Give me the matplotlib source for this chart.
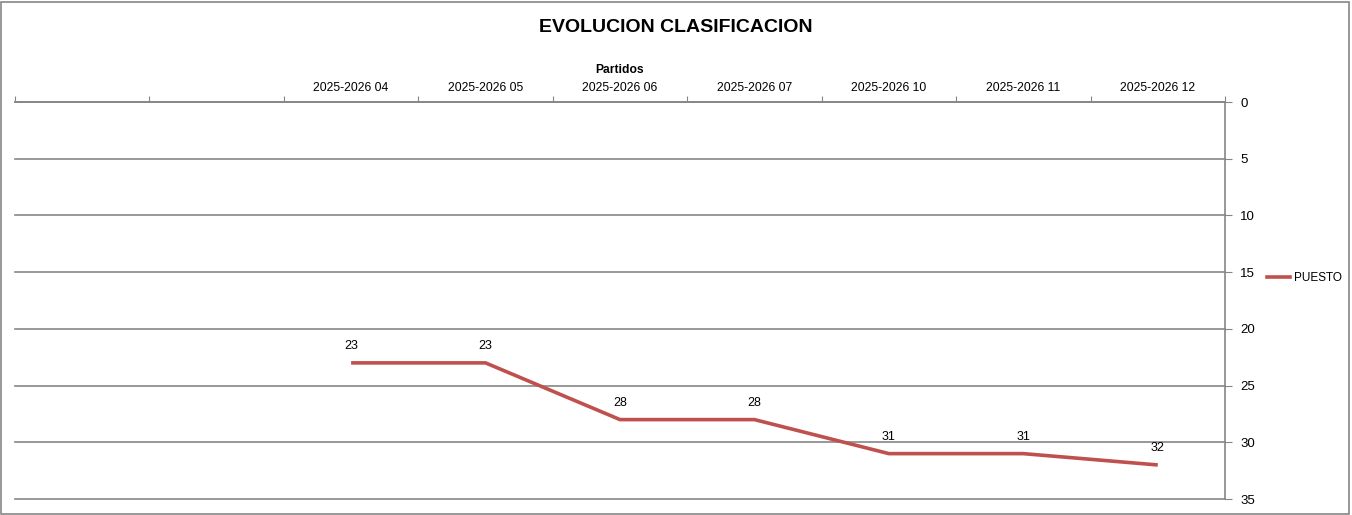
import numpy as np
import matplotlib.pyplot as plt
from matplotlib.lines import Line2D

plt.rcParams['font.family'] = ['Liberation Sans', 'DejaVu Sans']

# data
categories = ["", "", "2025-2026 04", "2025-2026 05", "2025-2026 06",
              "2025-2026 07", "2025-2026 10", "2025-2026 11", "2025-2026 12"]
puesto = [np.nan, np.nan, 23, 23, 28, 28, 31, 31, 32]

line_color = "#C0504D"
grid_color = "#868686"

fig = plt.figure(figsize=(13.52, 5.15), dpi=100)
W, H = 1352, 515
ax = fig.add_axes([15 / W, 1 - 499 / H, (1225 - 15) / W, (499 - 102) / H])

x = np.arange(len(categories)) + 0.5
ax.plot(x, puesto, color=line_color, lw=2.6, solid_capstyle='butt')
for xi, v in zip(x, puesto):
    if not np.isnan(v):
        ax.annotate(f"{v:.0f}", (xi, v), xytext=(0, 12.3), textcoords='offset points',
                    ha='center', va='center', fontsize=9)

ax.set_xlim(0, len(categories))
ax.set_ylim(35, 0)
ax.set_yticks(np.arange(0, 36, 5))
ax.yaxis.tick_right()
ax.xaxis.tick_top()
ax.xaxis.set_label_position('top')

ax.set_xticks(np.arange(len(categories) + 1))
ax.set_xticklabels([])
ax.set_xticks(x, minor=True)
ax.set_xticklabels(categories, minor=True, fontsize=8.7)
ax.tick_params(axis='x', which='minor', length=0, pad=6)
ax.tick_params(axis='x', which='major', length=4, color=grid_color, direction='out')
ax.tick_params(axis='y', length=5, color=grid_color, labelsize=9.5, pad=6)
ax.set_xlabel("Partidos", fontsize=8.7, fontweight='bold', labelpad=6)

for s in ['left', 'bottom']:
    ax.spines[s].set_visible(False)
for s in ['top', 'right']:
    ax.spines[s].set_color(grid_color)
    ax.spines[s].set_linewidth(1.2)

ax.yaxis.grid(True, color=grid_color, lw=1.2)
for gl in ax.get_ygridlines():
    gl.set_clip_on(False)
ax.set_axisbelow(True)

fig.text(0.5, 1 - 27 / H, "EVOLUCION CLASIFICACION", ha='center', va='center',
         fontsize=14, fontweight='bold')

handle = Line2D([], [], color=line_color, lw=2.6)
fig.legend([handle], ["PUESTO"], loc='center left', bbox_to_anchor=(1256 / W, 1 - 278 / H),
           frameon=False, fontsize=8.5, handlelength=2.0, handletextpad=0.3)

# outer border
fig.patches.append(plt.Rectangle((0.001, 0.002), 0.997, 0.995, transform=fig.transFigure,
                                 fill=False, edgecolor=grid_color, lw=1.2))

fig.savefig("out.png", dpi=100)
